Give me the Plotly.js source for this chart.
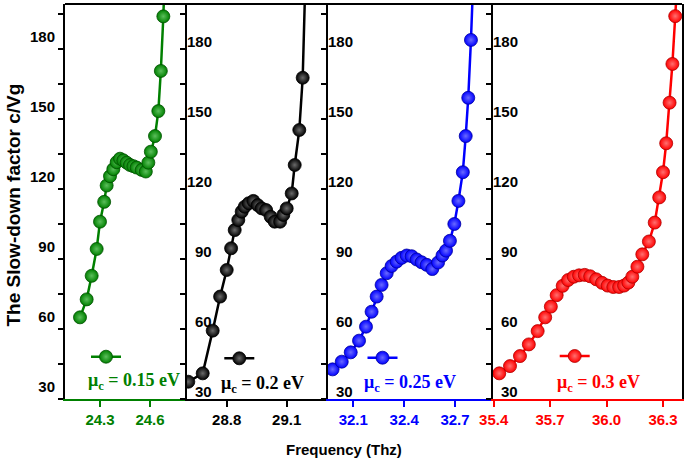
<!DOCTYPE html>
<html>
<head>
<meta charset="utf-8">
<script src="https://cdn.plot.ly/plotly-3.0.1.min.js"></script>
<style>html,body{margin:0;padding:0;background:#fff;}#chart{width:685px;height:460px;}</style>
</head>
<body>
<div id="chart"></div>
<script>
// ---- data ----
const greenX = [24.18, 24.22, 24.25, 24.28, 24.30, 24.325, 24.34, 24.36, 24.38, 24.40, 24.42, 24.44, 24.46, 24.48, 24.50, 24.52, 24.55, 24.575, 24.59, 24.605, 24.63, 24.65, 24.665, 24.68, 24.69];
const greenY = [65, 72.7, 82.8, 94.3, 106, 114.5, 121.5, 125.5, 128.5, 131.5, 133, 132.3, 131.3, 130.3, 129.8, 129.2, 128.2, 127.5, 131.3, 136, 142.7, 153.4, 170.6, 194, 215];

const blackX = [28.608, 28.68, 28.73, 28.767, 28.80, 28.822, 28.84, 28.858, 28.875, 28.89, 28.91, 28.933, 28.955, 28.975, 28.997, 29.02, 29.04, 29.067, 29.083, 29.10, 29.125, 29.14, 29.163, 29.18, 29.195];
const blackY = [37.4, 41, 59.3, 73.9, 85.3, 94.6, 102.4, 106.7, 110.3, 112.4, 113.9, 114.9, 113.1, 111.7, 111, 108.1, 106, 106, 108.9, 111.7, 118.1, 130.3, 145.3, 167.7, 215];

const blueX = [31.978, 32.032, 32.085, 32.134, 32.175, 32.208, 32.238, 32.267, 32.297, 32.326, 32.356, 32.385, 32.415, 32.444, 32.474, 32.503, 32.533, 32.566, 32.6, 32.626, 32.647, 32.67, 32.696, 32.72, 32.746, 32.763, 32.778, 32.794, 32.81];
const blueY = [42.7, 46, 50, 55, 61, 67.4, 73.9, 78.9, 83.9, 87, 88.9, 90.5, 91.5, 91.2, 89.8, 88.6, 87.5, 85.7, 88.5, 91.5, 93.6, 97.8, 105, 114.9, 127.2, 142.7, 159.1, 183.9, 215];

const redX = [35.43, 35.487, 35.54, 35.587, 35.634, 35.674, 35.704, 35.735, 35.767, 35.796, 35.826, 35.854, 35.884, 35.913, 35.945, 35.976, 36.006, 36.036, 36.067, 36.093, 36.116, 36.137, 36.164, 36.19, 36.225, 36.256, 36.28, 36.3, 36.317, 36.335, 36.35, 36.365, 36.38];
const redY = [41, 44.1, 48.4, 53.4, 59.1, 65, 69.6, 74.5, 78.5, 81, 82.4, 83, 83.2, 82.6, 81.3, 79.8, 78.6, 78, 78, 78.6, 79.9, 82.4, 86.7, 92, 97.5, 105.6, 116.4, 127.2, 139.6, 157, 173.6, 194.1, 215];

const seriesLabels = ['μ<sub>c</sub> = 0.15 eV', 'μ<sub>c</sub> = 0.2 eV', 'μ<sub>c</sub> = 0.25 eV', 'μ<sub>c</sub> = 0.3 eV'];
const xTickVals = [[24.3, 24.6], [28.8, 29.1], [32.1, 32.4, 32.7], [35.4, 35.7, 36.0, 36.3]];
const xTickText = [['24.3', '24.6'], ['28.8', '29.1'], ['32.1', '32.4', '32.7'], ['35.4', '35.7', '36.0', '36.3']];
const yTickVals = [30, 60, 90, 120, 150, 180];
const yTickText = ['30', '60', '90', '120', '150', '180'];
const yTitle = 'The Slow-down factor c/Vg';
const xTitle = 'Frequency (Thz)';

// ---- styling ----
const colors = ['#008000', '#000000', '#0000ff', '#ff0000'];
const edge = ['#005000', '#000000', '#0000a0', '#b00000'];
const glow = ['#5cbf5c', '#6a6a6a', '#6a6aff', '#ff7070'];
const xs = [greenX, blackX, blueX, redX];
const ys = [greenY, blackY, blueY, redY];
const legendNames = ['legend', 'legend2', 'legend3', 'legend4'];
const yRange = [30, 199.3];

const traces = xs.map((x, i) => ({
  type: 'scatter', mode: 'lines+markers',
  x: x, y: ys[i],
  xaxis: i === 0 ? 'x' : 'x' + (i + 1),
  yaxis: i === 0 ? 'y' : 'y' + (i + 1),
  name: ' ',
  legend: legendNames[i],
  line: {color: colors[i], width: 2.5},
  marker: {size: 13, color: colors[i], line: {color: edge[i], width: 0.8},
           gradient: {type: 'radial', color: glow[i]}}
}));

const L = 65, R = 682, T = 4, B = 399, W = 685, H = 460;
const px2x = p => (p - L) / (R - L);
const px2y = p => (B - p) / (B - T);
const bounds = [65, 186.5, 328, 492.5, 682];
const xRanges = [[24.09, 24.819], [28.599, 29.3065], [31.951, 32.921], [35.394, 36.401]];
const tickFont = c => ({family: 'Liberation Sans, Arial, sans-serif', size: 15, color: c, weight: 'bold'});

const layout = {
  width: W, height: H,
  margin: {l: L, r: W - R, t: T, b: H - B},
  paper_bgcolor: '#ffffff', plot_bgcolor: '#ffffff',
  showlegend: true,
  shapes: [{type: 'line', xref: 'paper', yref: 'paper', x0: 0, x1: 1, y0: 1, y1: 1,
            line: {color: '#000', width: 2}}],
  annotations: []
};

for (let i = 0; i < 4; i++) {
  const sfx = i === 0 ? '' : String(i + 1);
  layout['xaxis' + sfx] = {
    domain: [px2x(bounds[i]), px2x(bounds[i + 1])],
    range: xRanges[i], anchor: 'y' + sfx,
    tickmode: 'array', tickvals: xTickVals[i], ticktext: xTickText[i],
    showline: true, linecolor: colors[i], linewidth: 2,
    ticks: 'outside', ticklen: 6, tickwidth: 2, tickcolor: colors[i],
    tickfont: tickFont(colors[i]),
    showgrid: false, zeroline: false
  };
  layout['yaxis' + sfx] = {
    domain: [0, 1], range: yRange, anchor: 'x' + sfx,
    tickmode: 'array', tickvals: yTickVals, ticktext: yTickText,
    showticklabels: i === 0,
    ticklabelshift: -12,
    showline: true, linecolor: '#000', linewidth: 2, mirror: i === 3,
    ticks: 'outside', ticklen: 5, tickwidth: 1.5, tickcolor: '#000',
    minor: {tickmode: 'linear', tick0: 15, dtick: 15, ticks: 'outside', ticklen: 5, tickwidth: 1.5, tickcolor: '#000', showgrid: false},
    tickfont: tickFont('#000'),
    showgrid: false, zeroline: false
  };
  // tick labels of panels 2-4 sit just inside each panel's left edge, right-aligned
  if (i > 0) {
    yTickVals.forEach((v, k) => {
      layout.annotations.push({text: yTickText[k], xref: 'x' + sfx + ' domain', yref: 'y' + sfx,
        x: 0, y: v, xanchor: 'right', yanchor: 'middle', xshift: 27, yshift: 8, showarrow: false,
        align: 'right', font: tickFont('#000')});
    });
  }
}

// legend samples
const legPos = [[86, 356.7], [219.3, 358.3], [362.5, 357.7], [554.7, 356]];
legendNames.forEach((ln, i) => {
  layout[ln] = {x: px2x(legPos[i][0]), xanchor: 'left', y: px2y(legPos[i][1]), yanchor: 'middle',
                bgcolor: 'rgba(0,0,0,0)', borderwidth: 0, font: {size: 10}, itemsizing: 'trace'};
});

// legend labels
const labPos = [[134, 381], [262, 384], [410, 383], [598.3, 383]];
seriesLabels.forEach((t, i) => {
  layout.annotations.push({text: t, xref: 'paper', yref: 'paper', x: px2x(labPos[i][0]), y: px2y(labPos[i][1]),
    xanchor: 'center', yanchor: 'middle', showarrow: false,
    font: {family: 'Liberation Serif, Times New Roman, serif', size: 18, color: colors[i], weight: 'bold'}});
});

layout.annotations.push({text: yTitle, xref: 'paper', yref: 'paper', x: px2x(13), y: px2y(205.5),
  xanchor: 'center', yanchor: 'middle', textangle: -90, showarrow: false,
  font: {family: 'Liberation Sans, Arial, sans-serif', size: 19, color: '#000', weight: 'bold'}});
layout.annotations.push({text: xTitle, xref: 'paper', yref: 'paper', x: px2x(344), y: px2y(449),
  xanchor: 'center', yanchor: 'middle', showarrow: false,
  font: {family: 'Liberation Sans, Arial, sans-serif', size: 15, color: '#000', weight: 'bold'}});

Plotly.newPlot('chart', traces, layout, {displayModeBar: false, staticPlot: true});
</script>
</body>
</html>
